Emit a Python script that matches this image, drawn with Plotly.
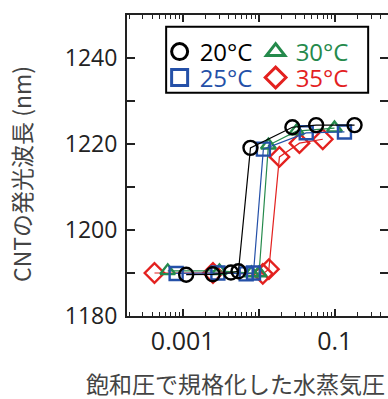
import plotly.graph_objects as go

# ---- data ----
x_20 = [0.00111, 0.00248, 0.00431, 0.00541, 0.00778, 0.0277, 0.0569, 0.182]
y_20 = [1189.6, 1189.7, 1190.1, 1190.4, 1219.1, 1223.9, 1224.4, 1224.4]

x_25 = [0.000819, 0.0029, 0.00683, 0.00852, 0.0115, 0.0421, 0.134]
y_25 = [1189.9, 1190.0, 1189.8, 1190.0, 1218.8, 1222.6, 1222.8]

x_30 = [0.000635, 0.00304, 0.0080, 0.0101, 0.0134, 0.0313, 0.0991]
y_30 = [1190.5, 1190.5, 1190.0, 1190.0, 1219.7, 1223.0, 1223.7]

x_35 = [0.000425, 0.0025, 0.0113, 0.0136, 0.0187, 0.0343, 0.0695]
y_35 = [1190.0, 1190.0, 1189.8, 1190.9, 1217.0, 1220.2, 1221.1]

series_names = ["20°C", "25°C", "30°C", "35°C"]
x_tickvals = [0.001, 0.01, 0.1]
x_ticktext = ["0.001", "", "0.1"]
y_tickvals = [1180, 1200, 1220, 1240]
y_ticktext = ["1180", "1200", "1220", "1240"]
x_title = "飽和圧で規格化した水蒸気圧"
y_title = "CNTの発光波長 (nm)"

colors = ["#000000", "#2450a8", "#258a4c", "#e3211f"]
symbols = ["circle-open", "square-open", "triangle-up-open", "diamond-open"]
legend_ids = ["legend", "legend2", "legend", "legend2"]
sizes = [14, 13, 13, 15]

data = [(x_20, y_20), (x_25, y_25), (x_30, y_30), (x_35, y_35)]

fig = go.Figure()
order = [3, 2, 1, 0]
for i in order:
    xs, ys = data[i]
    fig.add_trace(go.Scatter(
        x=xs, y=ys, mode="lines+markers", showlegend=False,
        line=dict(color=colors[i], width=1.2),
        marker=dict(symbol=symbols[i], size=sizes[i], color=colors[i],
                    line=dict(color=colors[i], width=2.4)),
    ))
# legend entries (markers only, no data)
for i in range(4):
    fig.add_trace(go.Scatter(
        x=[None], y=[None], mode="markers",
        name=f"<span style='color:{colors[i]}'>{series_names[i]}</span>",
        legend=legend_ids[i],
        marker=dict(symbol=symbols[i], size=18, color=colors[i],
                    line=dict(color=colors[i], width=3)),
    ))

tick_font = dict(family="Open Sans, DejaVu Sans, sans-serif", size=23, color="#222")
xtick_font = dict(family="Open Sans, DejaVu Sans, sans-serif", size=25, color="#222")
leg_common = dict(
    orientation="h", xanchor="left", yanchor="middle",
    bgcolor="rgba(0,0,0,0)", borderwidth=0,
    font=dict(family="Open Sans, DejaVu Sans, sans-serif", size=24, color="#000"),
    entrywidth=51, entrywidthmode="pixels",
    itemsizing="trace", traceorder="normal",
)

fig.update_layout(
    width=388, height=399,
    margin=dict(l=127, r=0, t=15, b=83),
    paper_bgcolor="white", plot_bgcolor="white",
    showlegend=True,
    legend=dict(x=0.125, y=0.877, **leg_common),
    legend2=dict(x=0.125, y=0.791, **leg_common),
    shapes=[dict(type="rect", xref="paper", yref="paper",
                 x0=0.150, x1=0.924, y0=0.742, y1=0.961,
                 line=dict(color="black", width=2), fillcolor="white", layer="above")],
    xaxis=dict(
        type="log", range=[-3.733, -0.30],
        tickvals=x_tickvals, ticktext=x_ticktext,
        ticks="inside", ticklen=7, tickwidth=1.5, tickcolor="#222",
        minor=dict(ticks="inside", ticklen=4, tickwidth=1.2, tickcolor="#222", dtick="D1", showgrid=False),
        showline=True, linewidth=2, linecolor="#222", mirror="ticks",
        showgrid=False, zeroline=False, tickfont=xtick_font, automargin=False,
        ticklabelstandoff=2,
    ),
    yaxis=dict(
        range=[1180, 1250],
        tickvals=y_tickvals, ticktext=y_ticktext,
        ticks="inside", ticklen=8, tickwidth=1.5, tickcolor="#222",
        minor=dict(ticks="inside", ticklen=8, tickwidth=1.5, tickcolor="#222", dtick=10, showgrid=False),
        showline=True, linewidth=2, linecolor="#222", mirror="ticks",
        showgrid=False, zeroline=False, tickfont=tick_font, automargin=False,
        ticklabelstandoff=3,
    ),
    annotations=[
        dict(text=x_title, xref="paper", yref="paper",
             x=(235 - 127) / 261, y=-(382.5 - 316) / 301,
             xanchor="center", yanchor="middle", showarrow=False,
             font=dict(family="Noto Sans CJK JP", size=23, color="#444")),
        dict(text=y_title, xref="paper", yref="paper",
             x=-(127 - 21) / 261, y=(316 - 174) / 301,
             xanchor="center", yanchor="middle", showarrow=False, textangle=-90,
             font=dict(family="Noto Sans CJK JP", size=23, color="#444")),
    ],
)

fig.write_html("out.html", config={"displayModeBar": False},
               post_script="document.body.style.margin='0';document.body.style.overflow='hidden';")
